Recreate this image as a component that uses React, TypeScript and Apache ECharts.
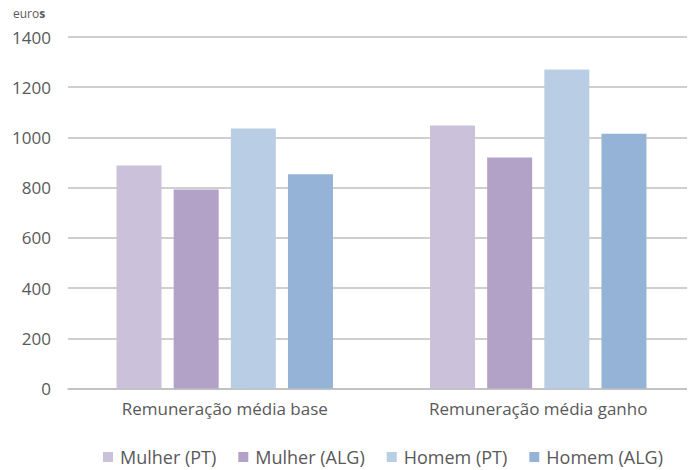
import React, { useEffect, useRef } from "react";
import * as echarts from "echarts";

const categories = ["Remuneração média base", "Remuneração média ganho"];
const seriesNames = ["Mulher (PT)", "Mulher (ALG)", "Homem (PT)", "Homem (ALG)"];
const mulherPT = [888, 1048];
const mulherALG = [793, 920];
const homemPT = [1036, 1271];
const homemALG = [853, 1015];
const colors = ["#CCC1DA", "#B3A2C7", "#B9CDE5", "#95B3D7"];
const yTicks = { min: 0, max: 1400, interval: 200 };

const FONT = "Open Sans";

export default function App() {
  const ref = useRef<HTMLDivElement>(null);
  useEffect(() => {
    if (!ref.current) return;
    const chart = echarts.init(ref.current, null, { renderer: "svg" });
    const values = [mulherPT, mulherALG, homemPT, homemALG];
    chart.setOption({
      animation: false,
      textStyle: { fontFamily: FONT },
      grid: { left: 68, width: 635, top: 37, height: 351.5, containLabel: false },
      graphic: [
        {
          type: "text",
          left: 13,
          top: 7,
          style: {
            text: "{a|euro}{b|s}",
            rich: {
              a: { fontFamily: FONT, fontSize: 12, fill: "#595959" },
              b: { fontFamily: FONT, fontSize: 12, fill: "#595959", fontWeight: "bold" },
            },
          },
        },
      ],
      legend: {
        top: 447,
        left: 103,
        padding: 0,
        itemWidth: 10,
        itemHeight: 10,
        itemGap: 22,
        icon: "rect",
        textStyle: {
          fontFamily: FONT,
          fontSize: 18,
          lineHeight: 20,
          color: "#595959",
          padding: [0, 0, 0, 2],
        },
        data: seriesNames,
      },
      xAxis: {
        type: "category",
        data: categories,
        axisLine: { show: true, lineStyle: { color: "#BFBFBF", width: 1.5 } },
        axisTick: { show: false },
        axisLabel: { fontFamily: FONT, fontSize: 17, color: "#595959", margin: 11 },
      },
      yAxis: {
        type: "value",
        min: yTicks.min,
        max: yTicks.max,
        interval: yTicks.interval,
        axisLine: { show: false },
        axisTick: { show: false },
        axisLabel: {
          fontFamily: FONT,
          fontSize: 17,
          color: "#595959",
          margin: 17,
          formatter: (v: number) => String(v),
        },
        splitLine: { lineStyle: { color: "#BFBFBF", width: 1.5 } },
      },
      series: values.map((v, i) => ({
        name: seriesNames[i],
        type: "bar",
        data: v,
        barWidth: 45,
        barGap: "27%",
        itemStyle: { color: colors[i] },
      })),
    });
    return () => chart.dispose();
  }, []);
  return <div ref={ref} style={{ width: 695, height: 470, marginLeft: -8, marginTop: -8 }} />;
}
